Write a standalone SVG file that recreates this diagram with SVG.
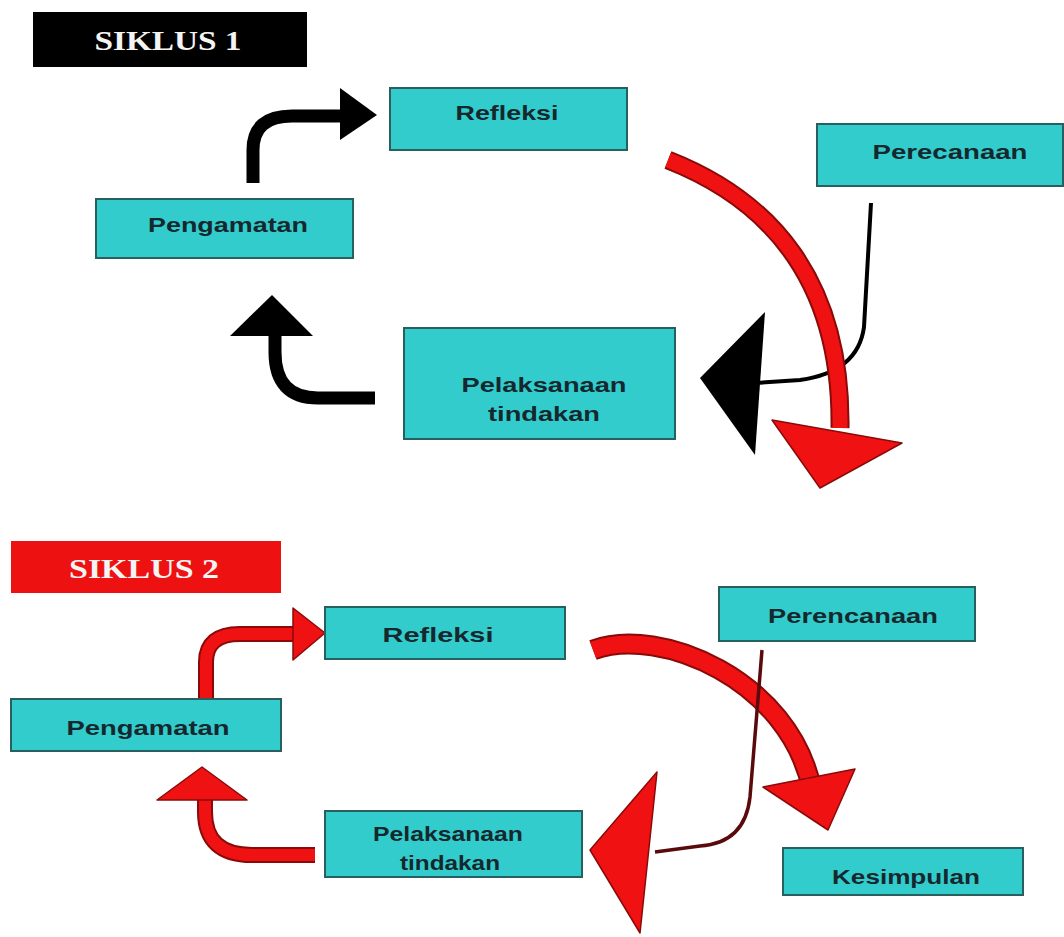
<svg xmlns="http://www.w3.org/2000/svg" width="1064" height="937" viewBox="0 0 1064 937">
<style>
.box{fill:#33cccc;stroke:#27605f;stroke-width:2}
.t{font-family:"Liberation Sans",Arial,sans-serif;font-weight:bold;font-size:21px;fill:#15282e;text-anchor:middle;dominant-baseline:central}
.title{font-family:"Liberation Serif","Times New Roman",serif;font-weight:bold;font-size:28px;fill:#f4f4f4;text-anchor:middle;dominant-baseline:central}
.blk{fill:none;stroke:#000;stroke-width:13}
.thin{fill:none;stroke:#000;stroke-width:4}
.thinr{fill:none;stroke:#5a0a0a;stroke-width:3.5}
.rout{fill:none;stroke:#8a0a0a}
.rin{fill:none;stroke:#f01212}
.rh{fill:#f01212;stroke:#8a0a0a;stroke-width:1.5;stroke-linejoin:round}
</style>
<rect width="1064" height="937" fill="#ffffff"/>

<g id="siklus1">
<rect x="33" y="12" width="274" height="55" fill="#000"/>
<text class="title" x="168" y="40" textLength="147" lengthAdjust="spacingAndGlyphs">SIKLUS 1</text>
</g>
<g id="siklus2">
<rect x="11" y="541" width="270" height="52" fill="#ee1111"/>
<text class="title" x="144" y="568" textLength="150" lengthAdjust="spacingAndGlyphs">SIKLUS 2</text>
</g>

<g id="connectors">
<!-- cycle 1 -->
<path class="blk" d="M253,183 V150 Q253,116 292,116 H345"/>
<polygon points="340,88 377,115 340,140" fill="#000"/>
<path class="blk" d="M375,398 H318 Q275,398 275,352 V330"/>
<polygon points="230,336 272,295 313,336" fill="#000"/>
<path class="thin" d="M871,203 L864,327 Q858,372 800,380 L755,383"/>
<polygon points="765,312 700,378 755,455" fill="#000"/>
<path class="rout" stroke-width="19" d="M668,160 C770,200 842,280 840,428"/>
<path class="rin" stroke-width="15" d="M668,160 C770,200 842,280 840,428"/>
<polygon class="rh" points="772,420 902,443 820,488"/>
<!-- cycle 2 -->
<path class="rout" stroke-width="16" d="M206,698 V662 Q206,634 240,634 H298"/>
<path class="rin" stroke-width="12" d="M206,698 V662 Q206,634 240,634 H298"/>
<polygon class="rh" points="293,608 325,633 293,660"/>
<path class="rout" stroke-width="16" d="M315,855 H252 Q205,855 205,812 V796"/>
<path class="rin" stroke-width="12" d="M315,855 H252 Q205,855 205,812 V796"/>
<polygon class="rh" points="157,800 202,767 247,800"/>
<path class="rout" stroke-width="21" d="M593,650 C660,625 790,680 812,790"/>
<path class="rin" stroke-width="17" d="M593,650 C660,625 790,680 812,790"/>
<polygon class="rh" points="763,787 855,769 828,830"/>
<path class="thinr" d="M762,650 L750,797 Q745,843 700,846 L655,852"/>
<polygon class="rh" points="657,772 590,850 640,933"/>
</g>

<g id="refleksi1">
<rect class="box" x="390" y="88" width="237" height="62"/>
<text class="t" x="507" y="112" textLength="103" lengthAdjust="spacingAndGlyphs">Refleksi</text>
</g>
<g id="perecanaan1">
<rect class="box" x="817" y="124" width="246" height="62"/>
<text class="t" x="950" y="151" textLength="155" lengthAdjust="spacingAndGlyphs">Perecanaan</text>
</g>
<g id="pengamatan1">
<rect class="box" x="96" y="199" width="257" height="59"/>
<text class="t" x="228" y="224" textLength="160" lengthAdjust="spacingAndGlyphs">Pengamatan</text>
</g>
<g id="pelaksanaan1">
<rect class="box" x="404" y="328" width="271" height="111"/>
<text class="t" x="544" y="384" textLength="165" lengthAdjust="spacingAndGlyphs">Pelaksanaan</text>
<text class="t" x="544" y="413" textLength="112" lengthAdjust="spacingAndGlyphs">tindakan</text>
</g>

<g id="refleksi2">
<rect class="box" x="325" y="607" width="240" height="52"/>
<text class="t" x="438" y="634" textLength="111" lengthAdjust="spacingAndGlyphs">Refleksi</text>
</g>
<g id="perencanaan2">
<rect class="box" x="719" y="587" width="256" height="54"/>
<text class="t" x="853" y="615" textLength="170" lengthAdjust="spacingAndGlyphs">Perencanaan</text>
</g>
<g id="pengamatan2">
<rect class="box" x="11" y="699" width="270" height="52"/>
<text class="t" x="148" y="727" textLength="163" lengthAdjust="spacingAndGlyphs">Pengamatan</text>
</g>
<g id="pelaksanaan2">
<rect class="box" x="325" y="811" width="257" height="66"/>
<text class="t" x="448" y="833" textLength="150" lengthAdjust="spacingAndGlyphs">Pelaksanaan</text>
<text class="t" x="450" y="862" textLength="100" lengthAdjust="spacingAndGlyphs">tindakan</text>
</g>
<g id="kesimpulan">
<rect class="box" x="783" y="848" width="240" height="47"/>
<text class="t" x="906" y="876" textLength="148" lengthAdjust="spacingAndGlyphs">Kesimpulan</text>
</g>
</svg>
